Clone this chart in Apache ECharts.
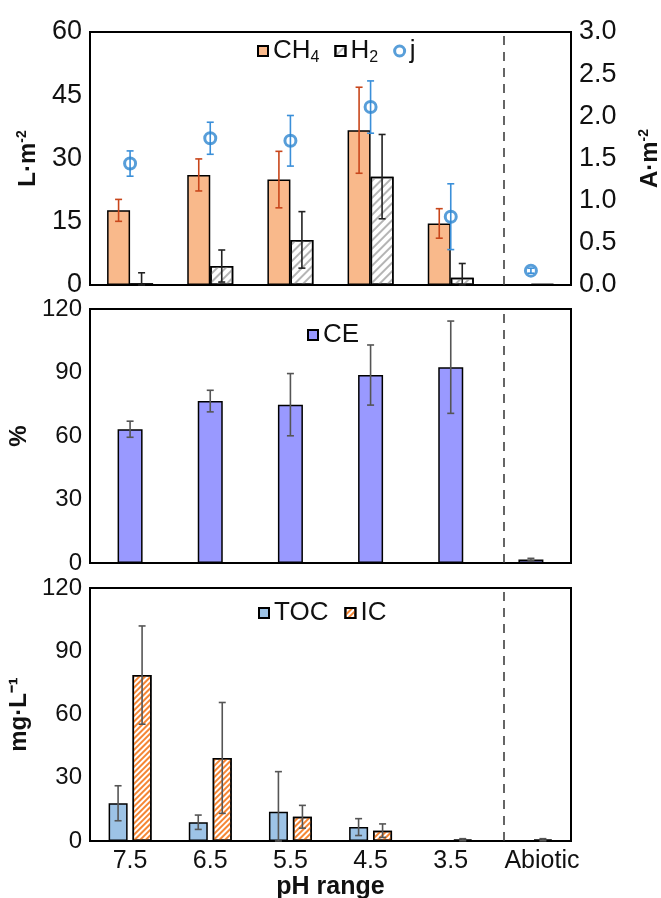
<!DOCTYPE html>
<html><head><meta charset="utf-8">
<script src="https://cdn.jsdelivr.net/npm/echarts@6/dist/echarts.min.js"></script>
<style>html,body{margin:0;padding:0;background:#fff}#c{width:661px;height:898px}</style>
</head><body><div id="c"></div><script>
const categories = ['7.5', '6.5', '5.5', '4.5', '3.5', 'Abiotic'];
// Panel 1: gas production (L·m-2) and current density j (A·m-2)
const ch4 = [17.7, 26.1, 25.0, 36.7, 14.6, 0];
const ch4Err = [2.6, 3.8, 6.7, 10.2, 3.5, 0];
const h2 = [0.4, 4.5, 10.7, 25.7, 1.7, 0.2];
const h2Err = [2.5, 3.8, 6.7, 10.0, 3.4, 0];
const jVals = [1.44, 1.74, 1.71, 2.11, 0.81, 0.17];
const jErr = [0.15, 0.19, 0.30, 0.31, 0.39, 0.03];
// Panel 2: coulombic efficiency (%)
const ce = [63.2, 76.5, 74.8, 88.8, 92.5, 1.6];
const ceErr = [3.8, 5.1, 14.7, 14.2, 21.8, 0.6];
// Panel 3: carbon (mg·L-1)
const toc = [17.9, 8.9, 13.9, 6.6, 0, 0];
const tocErr = [8.3, 3.4, 19.0, 4.0, 0, 0];
const ic = [78.7, 39.4, 11.5, 4.9, 0.6, 0.6];
const icErr = [23.3, 26.3, 5.4, 3.2, 0.5, 0.5];
// tick settings
const leftTicks1 = {min: 0, max: 60, interval: 15};
const rightTicks1 = {min: 0, max: 3, interval: 0.5};
const ticks23 = {min: 0, max: 120, interval: 30};
const SEP = 5.16; // dashed separator between pH runs and abiotic control (category units)

const FONT = '"Liberation Sans", Arial, Helvetica, sans-serif';
const chart = echarts.init(document.getElementById('c'), null, {renderer: 'canvas'});

function errSeries(vals, errs, xi, yi, offset, color, capHalf, width) {
  return {
    type: 'custom', xAxisIndex: xi, yAxisIndex: yi, silent: true, z: 5,
    data: vals.map((v, i) => [i, v, errs[i]]),
    renderItem: function (params, api) {
      const idx = api.value(0), v = api.value(1), e = api.value(2);
      if (!e) return null;
      const top = api.coord([idx, v + e]);
      const bot = api.coord([idx, Math.max(0, v - e)]);
      const x = top[0] + offset;
      const style = {stroke: color, lineWidth: width};
      return {type: 'group', children: [
        {type: 'line', shape: {x1: x, y1: top[1], x2: x, y2: bot[1]}, style: style},
        {type: 'line', shape: {x1: x - capHalf, y1: top[1], x2: x + capHalf, y2: top[1]}, style: style},
        {type: 'line', shape: {x1: x - capHalf, y1: bot[1], x2: x + capHalf, y2: bot[1]}, style: style}
      ]};
    }
  };
}
function sepSeries(xi, yi) {
  return {
    type: 'line', xAxisIndex: xi, yAxisIndex: yi, data: [], silent: true,
    markLine: {symbol: 'none', silent: true, label: {show: false},
      lineStyle: {type: [9, 7], color: '#333', width: 1.5},
      data: [{xAxis: SEP}]}
  };
}

const grids = [
  {left: 90, top: 32, width: 481, height: 253},
  {left: 90, top: 309, width: 481, height: 254},
  {left: 90, top: 588, width: 481, height: 253}
].map(g => Object.assign(g, {show: true, borderColor: '#000', borderWidth: 2, backgroundColor: 'transparent',
  containLabel: false, outerBoundsMode: 'none'}));

function catAxis(gi, showLabels) {
  return {
    type: 'category', gridIndex: gi, data: categories,
    axisLine: {show: true, lineStyle: {color: '#000', width: 2}},
    axisTick: {show: false},
    axisLabel: {show: showLabels, interval: 0, fontSize: 25, color: '#111', fontFamily: FONT, margin: 8,
      formatter: v => v === 'Abiotic' ? '{a|' + v + '}' : v,
      rich: {a: {fontSize: 25, color: '#111', fontFamily: FONT, padding: [0, 0, 0, 22]}}},
    name: showLabels ? 'pH range' : '', nameLocation: 'middle', nameGap: 34,
    nameTextStyle: {fontSize: 25, fontWeight: 'bold', color: '#111', fontFamily: FONT}
  };
}
function hiddenX(gi) {
  return {type: 'value', gridIndex: gi, min: 0, max: 6, show: false};
}
function valAxis(gi, ticks, pos, fs, name, nameGap, rich) {
  return Object.assign({
    type: 'value', gridIndex: gi, position: pos,
    splitLine: {show: false}, axisTick: {show: false},
    axisLine: {show: true, lineStyle: {color: '#000', width: 2}},
    axisLabel: {fontSize: fs, color: '#111', fontFamily: FONT, margin: 8,
      formatter: pos === 'right' ? (v => v.toFixed(1)) : (v => String(v))},
    name: name, nameLocation: 'middle', nameRotate: 90, nameGap: nameGap,
    nameTextStyle: {fontSize: 24, fontWeight: 'bold', color: '#111', fontFamily: FONT, rich: rich}
  }, ticks);
}
const supRich = {
  b: {fontSize: 24, fontWeight: 'bold', color: '#111', fontFamily: FONT},
  s: {fontSize: 14, fontWeight: 'bold', color: '#111', fontFamily: FONT, verticalAlign: 'top', padding: [0, 0, 12, 0]}
};
const legRich = {
  n: {fontSize: 26, color: '#111', fontFamily: FONT},
  sub: {fontSize: 16, color: '#111', fontFamily: FONT, padding: [13, 0, 0, 0]}
};
function legFmt(name) {
  if (name === 'CH4') return '{n|CH}{sub|4}';
  if (name === 'H2') return '{n|H}{sub|2}';
  return '{n|' + name + '}';
}

const h2Decal = {symbol: 'rect', symbolSize: 1, dashArrayX: [1, 0], dashArrayY: [2, 4], rotation: -Math.PI / 4, color: '#b5b5b5'};
const icDecal = {symbol: 'rect', symbolSize: 1, dashArrayX: [1, 0], dashArrayY: [2, 2], rotation: -Math.PI / 4, color: '#F58634'};

const option = {
  animation: false,
  backgroundColor: '#fff',
  grid: grids,
  xAxis: [catAxis(0, false), catAxis(1, false), catAxis(2, true), hiddenX(0), hiddenX(1), hiddenX(2)],
  yAxis: [
    valAxis(0, leftTicks1, 'left', 27, '{b|L·m}{s|-2}', 49, supRich),
    valAxis(0, rightTicks1, 'right', 27, '{b|A·m}{s|-2}', 66, supRich),
    valAxis(1, ticks23, 'left', 24, '%', 53, supRich),
    valAxis(2, ticks23, 'left', 24, 'mg·L⁻¹', 50, supRich)
  ],
  legend: [
    {left: 252, top: 33, itemWidth: 10, itemHeight: 10, itemGap: 15, formatter: legFmt,
      textStyle: {rich: legRich, fontSize: 26, fontFamily: FONT, color: '#111'},
      data: [{name: 'CH4', icon: 'rect'}, {name: 'H2', icon: 'rect'},
        {name: 'j', icon: 'circle', itemStyle: {color: '#fff', borderColor: '#2E86D0', borderWidth: 3}}]},
    {left: 302, top: 317, itemWidth: 10, itemHeight: 10, formatter: legFmt,
      textStyle: {rich: legRich, fontSize: 26, fontFamily: FONT, color: '#111'},
      data: [{name: 'CE', icon: 'rect'}]},
    {left: 253, top: 595, itemWidth: 10, itemHeight: 10, itemGap: 16, formatter: legFmt,
      textStyle: {rich: legRich, fontSize: 26, fontFamily: FONT, color: '#111'},
      data: [{name: 'TOC', icon: 'rect'}, {name: 'IC', icon: 'rect'}]}
  ],
  series: [
    {name: 'CH4', type: 'bar', xAxisIndex: 0, yAxisIndex: 0, data: ch4, barWidth: 23, barGap: '0%',
      itemStyle: {color: '#F9B98B', borderColor: '#000', borderWidth: 1.5}},
    {name: 'H2', type: 'bar', xAxisIndex: 0, yAxisIndex: 0, data: h2, barWidth: 23, barGap: '0%',
      itemStyle: {color: '#fff', borderColor: '#000', borderWidth: 1.5, decal: h2Decal}},
    errSeries(ch4, ch4Err, 0, 0, -11.5, '#C8461B', 3.5, 1.6),
    errSeries(h2, h2Err, 0, 0, 11.5, '#222', 3.5, 1.6),
    errSeries(jVals, jErr, 0, 1, 0, '#3A8FD9', 3.5, 1.6),
    {name: 'j', type: 'scatter', xAxisIndex: 0, yAxisIndex: 1, data: jVals, symbol: 'circle', symbolSize: 11, z: 6,
      itemStyle: {color: 'rgba(255,255,255,0)', borderColor: '#2E86D0', borderWidth: 3}},
    sepSeries(3, 0),

    {name: 'CE', type: 'bar', xAxisIndex: 1, yAxisIndex: 2, data: ce, barWidth: 25,
      itemStyle: {color: '#9999FF', borderColor: '#000', borderWidth: 1.5}},
    errSeries(ce, ceErr, 1, 2, 0, '#555', 3.5, 1.6),
    sepSeries(4, 2),

    {name: 'TOC', type: 'bar', xAxisIndex: 2, yAxisIndex: 3, data: toc, barWidth: 19, barGap: '26%',
      itemStyle: {color: '#9DC3E6', borderColor: '#000', borderWidth: 1.5}},
    {name: 'IC', type: 'bar', xAxisIndex: 2, yAxisIndex: 3, data: ic, barWidth: 19, barGap: '26%',
      itemStyle: {color: '#fff', borderColor: '#000', borderWidth: 1.5, decal: icDecal}},
    errSeries(toc, tocErr, 2, 3, -12, '#555', 3.5, 1.6),
    errSeries(ic, icErr, 2, 3, 12, '#555', 3.5, 1.6),
    sepSeries(5, 3)
  ]
};
chart.setOption(option);
</script></body></html>
